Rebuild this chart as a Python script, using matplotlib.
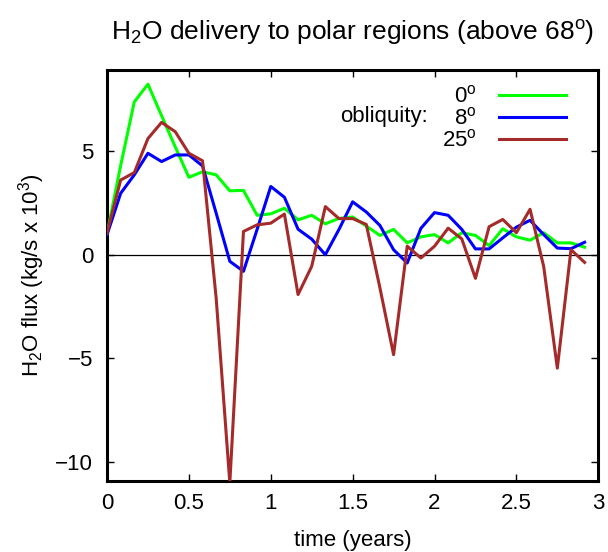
import numpy as np
import matplotlib
matplotlib.use('Agg')
import matplotlib.pyplot as plt

plt.rcParams['font.family'] = ['Liberation Sans', 'DejaVu Sans']
plt.rcParams['mathtext.fontset'] = 'custom'
plt.rcParams['mathtext.rm'] = 'Liberation Sans'

# monthly samples, time in years
month = np.arange(36)
time_years = month / 12.0

# H2O flux (kg/s x 10^3) for each obliquity
flux_0 = [1.0, 4.3, 7.37, 8.22, 6.7, 5.2, 3.73, 4.0, 3.85, 3.08, 3.1, 1.9,
          1.97, 2.24, 1.68, 1.9, 1.49, 1.75, 1.82, 1.38, 0.93, 1.22, 0.57, 0.86,
          0.97, 0.57, 1.06, 0.93, 0.44, 1.25, 0.86, 0.7, 1.06, 0.57, 0.57, 0.36]
flux_8 = [0.96, 2.96, 3.85, 4.89, 4.49, 4.81, 4.81, 4.28, 2.0, -0.32, -0.8, 1.22,
          3.29, 2.77, 1.23, 0.75, 0.0, 1.22, 2.55, 2.06, 1.41, 0.24, -0.4, 1.27,
          2.03, 1.9, 1.22, 0.28, 0.28, 0.81, 1.33, 1.66, 0.97, 0.32, 0.29, 0.6]
flux_25 = [1.04, 3.6, 3.96, 5.6, 6.38, 5.93, 4.89, 4.53, -2.1, -11.0, 1.12, 1.44,
           1.52, 1.96, -1.92, -0.56, 2.32, 1.74, 1.74, 1.46, -1.6, -4.82, 0.41, -0.16,
           0.41, 1.28, 0.76, -1.14, 1.35, 1.7, 1.06, 2.19, -0.57, -5.47, 0.24, -0.37]

labels = [r'0$\mathregular{^o}$', r'8$\mathregular{^o}$', r'25$\mathregular{^o}$']
colors = ['#00ff00', '#0000ff', '#a52a2a']

fig = plt.figure(figsize=(6.08, 5.52), dpi=100)
ax = fig.add_axes([0.176, 0.129, 0.808, 0.744])

ax.axhline(0, color='black', lw=0.9, zorder=1)
for y, lab, c in zip([flux_0, flux_8, flux_25], labels, colors):
    ax.plot(time_years, y, color=c, lw=2.2, label=lab, zorder=3)

ax.set_xlim(0, 3)
ax.set_ylim(-10.9, 8.9)
ax.set_xticks([0, 0.5, 1, 1.5, 2, 2.5, 3])
ax.set_xticklabels(['0', '0.5', '1', '1.5', '2', '2.5', '3'])
ax.set_yticks([-10, -5, 0, 5])
ax.set_yticklabels(['\u221210', '\u22125', '0', '5'])
ax.tick_params(direction='in', length=5, width=1, top=True, right=True,
               labelsize=16)
ax.tick_params(axis='x', pad=9)
ax.tick_params(axis='y', pad=10)
for s in ax.spines.values():
    s.set_linewidth(2.2)

ax.set_xlabel('time (years)', fontsize=16, labelpad=11)
ax.set_ylabel(r'$\mathregular{H_2O}$ flux (kg/s x $\mathregular{10^3}$)', fontsize=16, labelpad=6)
ax.set_title(r'$\mathregular{H_2O}$ delivery to polar regions (above 68$\mathregular{^o}$)',
             fontsize=19, pad=22)

leg = ax.legend(loc='upper right', frameon=False, markerfirst=False, fontsize=16,
                handlelength=3.0, handletextpad=1.0, labelspacing=0.0,
                borderaxespad=0.3, bbox_to_anchor=(0.965, 1.0))
ax.text(0.563, 0.888, 'obliquity:', transform=ax.transAxes, fontsize=16,
        ha='center', va='center')

fig.savefig('out.png', dpi=100)
